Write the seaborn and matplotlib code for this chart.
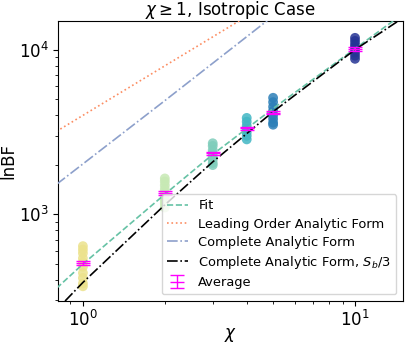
import numpy as np
import pandas as pd
import matplotlib
matplotlib.use("Agg")
import matplotlib.pyplot as plt
import seaborn as sns

# simulated lnBF values, one list per chi
chi_values = [1, 2, 3, 4, 5, 10]
lnbf_samples = [
    [640, 610, 580, 540, 510, 480, 440, 410, 380, 365],
    [1650, 1580, 1500, 1420, 1350, 1280, 1220, 1160, 1100],
    [2700, 2600, 2450, 2350, 2250, 2150, 2050, 1990],
    [3850, 3650, 3450, 3300, 3150, 3000, 2850],
    [5100, 4800, 4500, 4250, 4000, 3800, 3600, 3500],
    [11800, 11300, 10800, 10400, 10000, 9600, 9200, 8800],
]
point_colors = ["#ece28c", "#c7e9b4", "#7fcdbb", "#41b6c4", "#2c7fb8", "#253494"]

avg_lnbf = [505, 1341, 2344, 3320, 4150, 10140]
avg_err = [14, 35, 60, 85, 110, 280]

# curves
fit_chi = [0.8, 1, 2, 3, 5, 10, 15]
fit_lnbf = [355, 498, 1322, 2310, 4390, 10140, 16500]

lead_chi = [0.8, 4]
lead_lnbf = [3190, 15950]

full_chi = [0.8, 2, 5]
full_lnbf = [1520, 4900, 16000]

full3_chi = [0.86, 1, 2, 3, 5, 10, 15]
full3_lnbf = [297, 385, 1140, 2080, 4200, 10000, 15600]

pal = sns.color_palette("Set2")

rows = []
for c, vals in zip(chi_values, lnbf_samples):
    for v in vals:
        rows.append({"chi": c, "lnBF": v})
pts = pd.DataFrame(rows)

fig = plt.figure(figsize=(4.07, 3.45), dpi=100)
ax = fig.add_axes([0.1425, 0.1275, 0.8475, 0.8125])
ax.set_xscale("log")
ax.set_yscale("log")

sns.scatterplot(data=pts, x="chi", y="lnBF", hue="chi",
                palette=dict(zip(chi_values, point_colors)),
                s=50, linewidth=0, alpha=0.85, legend=False, ax=ax, zorder=1)

lw = 1.2
sns.lineplot(x=fit_chi, y=fit_lnbf, color=pal[0], linestyle="--", linewidth=lw,
             label="Fit", ax=ax, zorder=3)
sns.lineplot(x=lead_chi, y=lead_lnbf, color=pal[1], linestyle=":", linewidth=lw,
             label="Leading Order Analytic Form", ax=ax, zorder=3)
sns.lineplot(x=full_chi, y=full_lnbf, color=pal[2], linestyle="-.", linewidth=lw,
             label="Complete Analytic Form", ax=ax, zorder=3)
sns.lineplot(x=full3_chi, y=full3_lnbf, color="black", linestyle="-.", linewidth=lw,
             label="Complete Analytic Form, $S_b/3$", ax=ax, zorder=3)

ax.errorbar(chi_values, avg_lnbf, yerr=avg_err, fmt="_", color="#ff00ff",
            markersize=10, capsize=5, elinewidth=1, markeredgewidth=1,
            label="Average", zorder=4)

ax.set_xlim(0.81, 15)
ax.set_ylim(297, 15000)
ax.set_title(r"$\chi \geq 1$, Isotropic Case", fontsize=12, pad=2)
ax.set_xlabel(r"$\chi$", fontsize=12, labelpad=-3)
ax.set_ylabel("lnBF", fontsize=12, labelpad=1)
ax.tick_params(axis="both", which="major", labelsize=12, pad=3)
ax.legend(loc="lower right", fontsize=9.4, handlelength=1.6, labelspacing=0.4)

fig.savefig("out.png", dpi=100)
